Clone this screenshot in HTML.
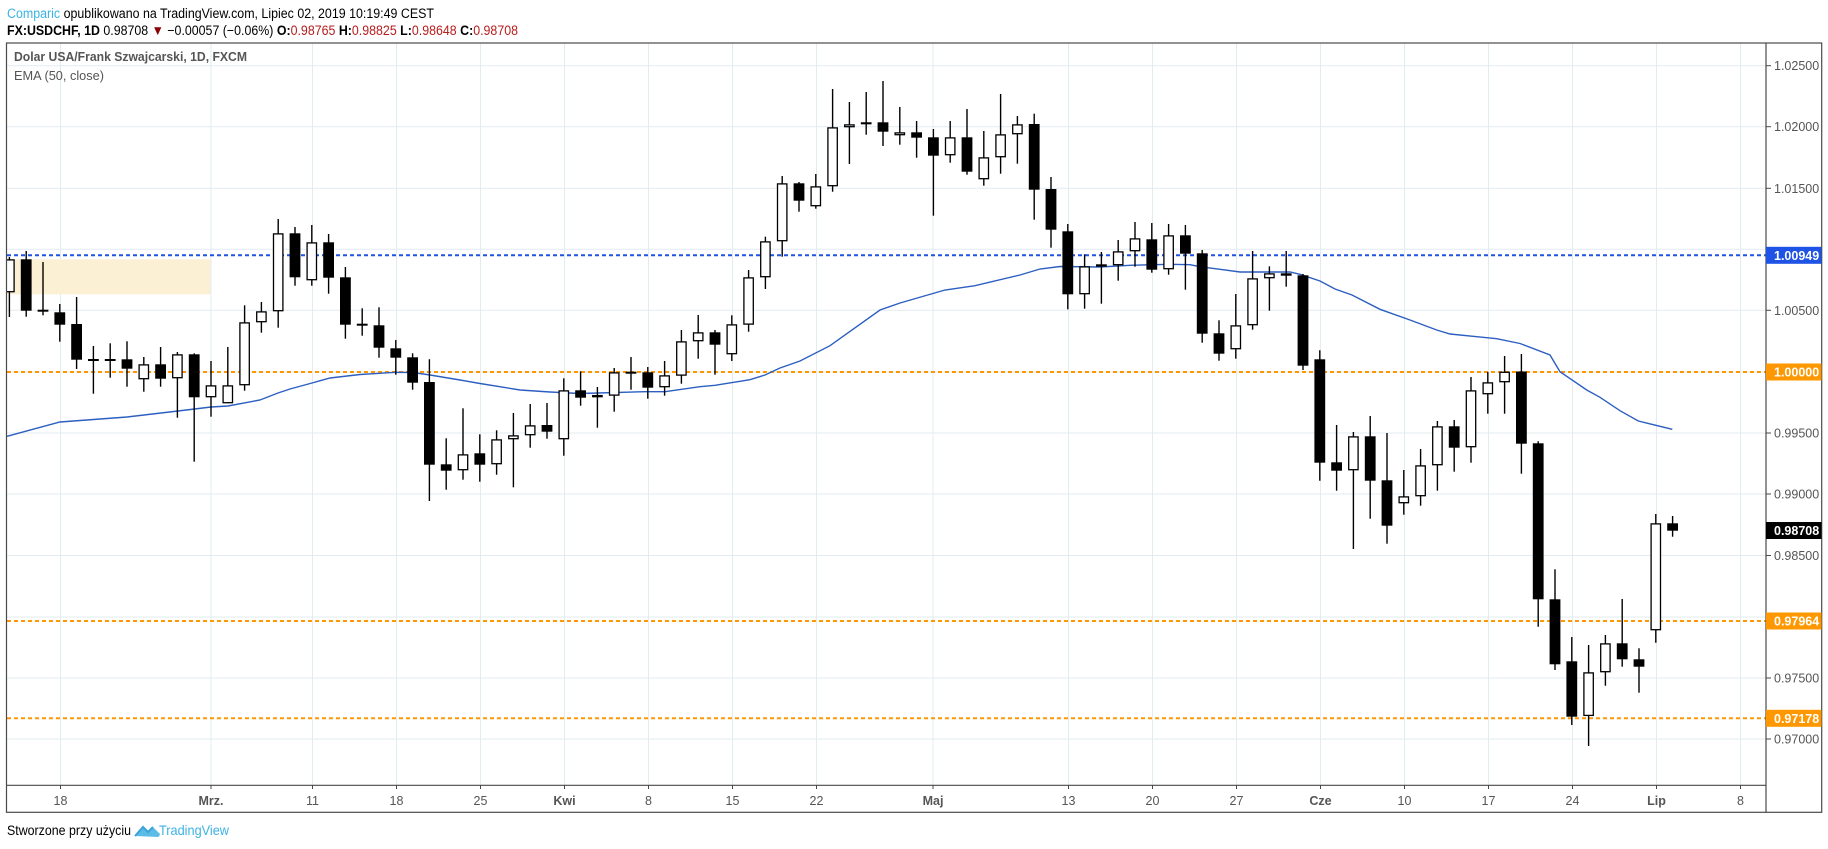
<!DOCTYPE html>
<html><head><meta charset="utf-8"><style>
body{margin:0;background:#fff;width:1828px;height:849px;overflow:hidden;font-family:"Liberation Sans",Tahoma,sans-serif}
svg{position:absolute;left:0;top:0}
</style></head><body>
<svg id="s" width="1828" height="849" xmlns="http://www.w3.org/2000/svg" font-family="Liberation Sans, sans-serif">
<rect x="0" y="0" width="1828" height="849" fill="#fff"/>
<g id="grid" stroke="#e1ecf2" stroke-width="1"></g>
<rect x="7" y="259.3" width="203.5" height="35" fill="#fbf0d3"/>
<line x1="7" y1="255.3" x2="1766" y2="255.3" stroke="#1e53e5" stroke-width="2" stroke-dasharray="4,3"/>
<line x1="7" y1="372" x2="1766" y2="372" stroke="#ff9800" stroke-width="2" stroke-dasharray="4,3"/>
<line x1="7" y1="621" x2="1766" y2="621" stroke="#ff9800" stroke-width="2" stroke-dasharray="4,3"/>
<line x1="7" y1="718.3" x2="1766" y2="718.3" stroke="#ff9800" stroke-width="2" stroke-dasharray="4,3"/>
<polyline fill="none" stroke="#2c5fc1" stroke-width="1.4" points="7,436.3 60,422 127,417 178,411 211,407 228,406 260,400 278,393 290,389 312,383 330,378 360,374.5 396,372.3 413,372.5 430,375 460,380 480,383.5 520,390 550,392 580,393.5 645,391.7 665,391.7 700,386.7 715,385.3 750,379.7 765,375 780,368 800,361 830,345.7 880,310 900,303 945,290 975,285.7 1020,275 1040,269 1060,266.5 1100,267 1130,265.3 1170,264.3 1190,264.7 1200,266.7 1220,269.3 1240,272 1290,272 1300,274.3 1320,281 1335,289 1352,295 1380,309.3 1410,320 1436.7,330 1450,334 1476.7,336.7 1496.7,338.7 1520,343.5 1550,355 1560,371.7 1586.7,390 1600,397.3 1620,410.7 1638.3,421 1672.3,429.3"/>
<g id="candles"></g>
<rect x="6.5" y="43" width="1815.2" height="769.3" fill="none" stroke="#4a4a4a" stroke-width="1.2"/>
<line x1="6.5" y1="785.3" x2="1766" y2="785.3" stroke="#4a4a4a" stroke-width="1.2"/>
<line x1="1766" y1="43" x2="1766" y2="812.3" stroke="#4a4a4a" stroke-width="1.2"/>
<g id="axis" font-size="12.5" fill="#555"></g>
<g id="taxis" font-size="12.5" fill="#555" text-anchor="middle"></g>
<text x="14" y="61" font-size="13" fill="#555" font-weight="bold" textLength="233" lengthAdjust="spacingAndGlyphs">Dolar USA/Frank Szwajcarski, 1D, FXCM</text>
<text x="14" y="80" font-size="13" fill="#555" textLength="90" lengthAdjust="spacingAndGlyphs">EMA (50, close)</text>
<text x="7" y="18" font-size="13.5" textLength="427" lengthAdjust="spacingAndGlyphs"><tspan fill="#3bb3e4">Comparic</tspan><tspan fill="#000"> opublikowano na TradingView.com, Lipiec 02, 2019 10:19:49 CEST</tspan></text>
<text x="7" y="35" font-size="13.5" fill="#000" textLength="511" lengthAdjust="spacingAndGlyphs"><tspan font-weight="bold">FX:USDCHF, 1D</tspan> 0.98708 <tspan fill="#8b0000">▼</tspan> −0.00057 (−0.06%) <tspan font-weight="bold">O:</tspan><tspan fill="#b71c1c">0.98765</tspan> <tspan font-weight="bold">H:</tspan><tspan fill="#b71c1c">0.98825</tspan> <tspan font-weight="bold">L:</tspan><tspan fill="#b71c1c">0.98648</tspan> <tspan font-weight="bold">C:</tspan><tspan fill="#b71c1c">0.98708</tspan></text>
<text x="7" y="835" font-size="14" fill="#000" textLength="124" lengthAdjust="spacingAndGlyphs">Stworzone przy użyciu</text>
<path d="M135,836 l8,-9 l5,5 l5,-5 l7,7 a4,4 0 0 1 -2,3 z" fill="#5bbde6"/>
<path d="M135,836 l8,-9 l5,5 l5,-5" fill="none" stroke="#3aa3d8" stroke-width="2"/>
<text x="159" y="835" font-size="14" fill="#3bb3e4" textLength="70" lengthAdjust="spacingAndGlyphs">TradingView</text>
</svg>
<script>
var NS="http://www.w3.org/2000/svg";
function el(p,t,a,txt){var e=document.createElementNS(NS,t);for(var k in a)e.setAttribute(k,a[k]);if(txt!=null)e.textContent=txt;p.appendChild(e);return e;}
var grid=document.getElementById('grid');
[65.7,126.7,188.3,249.3,310.3,372,433,494,555.5,617,678,739].forEach(function(y){el(grid,'line',{x1:7,y1:y,x2:1766,y2:y});});
var vx=[60.5,211,312.5,396.5,480.5,564.5,648.5,732.5,816.5,933,1068.5,1152.5,1236.5,1320.5,1404.5,1488.5,1572.5,1656.5,1740.5];
vx.forEach(function(x){el(grid,'line',{x1:x,y1:43,x2:x,y2:785});});
var tl=['18','Mrz.','11','18','25','Kwi','8','15','22','Maj','13','20','27','Cze','10','17','24','Lip','8'];
var ta=document.getElementById('taxis');
vx.forEach(function(x,i){var b=/[a-z]/i.test(tl[i]);el(ta,'line',{x1:x,y1:785,x2:x,y2:789,stroke:'#4a4a4a'});el(ta,'text',{x:x,y:805,'font-weight':b?'bold':'normal'},tl[i]);});
var ax=document.getElementById('axis');
var lv=[[65.7,'1.02500'],[126.7,'1.02000'],[188.3,'1.01500'],[310.3,'1.00500'],[433,'0.99500'],[494,'0.99000'],[555.5,'0.98500'],[678,'0.97500'],[739,'0.97000']];
lv.forEach(function(a){el(ax,'line',{x1:1766,y1:a[0],x2:1771,y2:a[0],stroke:'#4a4a4a'});el(ax,'text',{x:1774,y:a[0]+4.5},a[1]);});
[[255.3,'1.00949','#1e53e5'],[372,'1.00000','#ff9800'],[530.5,'0.98708','#000'],[621,'0.97964','#ff9800'],[718.3,'0.97178','#ff9800']].forEach(function(a){
el(ax,'rect',{x:1766,y:a[0]-8.5,width:55.5,height:17,fill:a[2]});
el(ax,'text',{x:1774,y:a[0]+4.5,fill:'#fff','font-weight':'bold'},a[1]);});
var D=[
[-3,257,259.3,292.3,317,0],[-2,251,259.3,310.7,316.7,1],[-1,262,310.7,310.7,315.3,1],[0,304,312.3,324.7,341.7,1],[1,297,324,359.7,369,1],
[2,346,360,360,393.7,1],[3,343.3,360,360,377.7,1],[4,341.3,359.3,368.7,386.7,1],[5,357,364.3,379.3,391.7,0],[6,347,364.3,378.7,386.7,1],
[7,352,354.3,378.3,417.7,0],[8,353.3,354.3,397.3,461.7,1],[9,361,385.3,397.3,416.7,0],[10,347,385.3,403.3,403.3,0],[11,305.3,322.3,385.3,390.7,0],
[12,302,311.3,322.3,332.7,0],[13,219,233.3,311.3,327.7,0],[14,227,233.3,277.3,285.7,1],[15,225,242.3,280.3,285.7,0],[16,234,242.3,277.7,293.7,1],
[17,267,277.3,324.7,338.7,1],[18,308.3,324.7,324.7,335.7,1],[19,307.3,325.3,347.7,357.7,1],[20,340,348.3,357.7,374.7,1],[21,353.3,357.3,382.7,389.7,1],
[22,359.3,382,464.7,501,1],[23,438.3,464.3,470.7,489.7,1],[24,408.3,454.3,470.3,479.7,0],[25,434.3,453.3,464.7,481.7,1],[26,430.3,439.3,464.3,474.7,0],
[27,413,435.3,439.3,487.3,0],[28,404,425.3,435.3,447.7,0],[29,403,425,431.7,438.7,1],[30,378.3,390.3,439.3,455.7,0],[31,371.3,390.3,397.7,405.7,1],
[32,387,395,397.3,427.7,0],[33,368,372.3,395.7,411.7,0],[34,357,372.7,372.7,389.7,1],[35,367,372.3,387.7,398.7,1],[36,361,375.3,387.3,395.7,0],
[37,330,341.3,375.7,383.7,0],[38,315,332.3,341.3,358.7,0],[39,330,332.3,344.7,374.7,1],[40,315.3,324.3,354.3,361,0],[41,270,277.3,324.7,331.7,0],
[42,236.7,241.3,277.3,289,0],[43,176,183.3,241.3,256.7,0],[44,182,183.3,200.7,211.7,1],[45,174,186.3,206.3,208.7,0],[46,89,127.3,186.3,191.7,0],
[47,102,124.3,127.3,164,0],[48,92,122.3,124.3,134.7,0],[49,81,122.3,131.7,146,1],[50,107,132.3,135.3,144.7,0],[51,121,132.3,137.7,157.7,1],
[52,129,137.3,155.7,215.7,1],[53,121,137.3,155.3,162.7,0],[54,109,137.3,171.7,174.7,1],[55,131,157.3,179.3,185.7,0],[56,94,134.3,157.3,173.7,0],
[57,116,124.3,134.3,163.7,0],[58,113.7,124,189.7,219.7,1],[59,177,189,229.7,247.7,1],[60,224,231.3,294.3,309.3,1],[61,254.3,266.3,294.3,308.7,0],
[62,252,265.3,266.7,303.7,1],[63,240,251.3,265.3,280.7,0],[64,222,238.3,251.3,266.7,0],[65,223,239.3,269.7,272.7,1],[66,224,235.3,269.3,274.7,0],
[67,225,235.3,253.7,289.7,1],[68,250,253.3,333.7,342.7,1],[69,320.3,333.3,353.7,360.7,1],[70,294,325.3,349.3,358.7,0],[71,251,278.3,325.3,329.7,0],
[72,266.3,273.3,278.3,310.7,0],[73,251,273.3,275.7,286.7,1],[74,274,275.3,365.7,370,1],[75,350.3,359.3,462.7,480.7,1],[76,425,462.3,470.7,490.7,1],
[77,432,436.3,470.3,549,0],[78,416,436.3,480.7,518.7,1],[79,433,480.3,525.7,543.7,1],[80,470,496.3,503.3,514.7,0],[81,449,465.3,496.3,505.7,0],
[82,421,426.3,465.3,490.7,0],[83,420,426.3,447.7,471.7,1],[84,377,390.3,447.3,462.7,0],[85,372,382.3,394.3,413.7,0],[86,356,371.7,382.3,413.7,0],
[87,354,371.5,443.7,473.7,1],[88,441.3,443.3,599.3,626.7,1],[89,569.3,599.3,664.3,670,1],[90,637,661.3,716.7,725,1],[91,645,672.3,716,746,0],
[92,635,643.3,672.3,685.7,0],[93,599,643.3,659.3,666.7,1],[94,648.3,659.3,666.7,692.7,1],[95,514,523.3,630.3,642.7,0],[96,516,523.3,530.7,536.7,1]];
var cg=document.getElementById('candles');
var cl=document.createElementNS(NS,'clipPath');cl.setAttribute('id','pc');el(cl,'rect',{x:7,y:43,width:1759,height:742});document.getElementById('s').appendChild(cl);
cg.setAttribute('clip-path','url(#pc)');
D.forEach(function(d){var x=60.5+16.8*d[0]-0.7;
el(cg,'line',{x1:x,y1:d[1],x2:x,y2:d[4],stroke:'#000','stroke-width':1.4});
var h=d[3]-d[2];
if(h<2){el(cg,'rect',{x:x-5.4,y:d[2]-1,width:10.8,height:Math.max(2,h+1),fill:'#000'});}
else if(d[5]){el(cg,'rect',{x:x-5.4,y:d[2],width:10.8,height:h,fill:'#000'});}
else{el(cg,'rect',{x:x-4.7,y:d[2]+0.6,width:9.4,height:h-1.2,fill:'#fff',stroke:'#000','stroke-width':1.3});}
});
</script>
</body></html>
